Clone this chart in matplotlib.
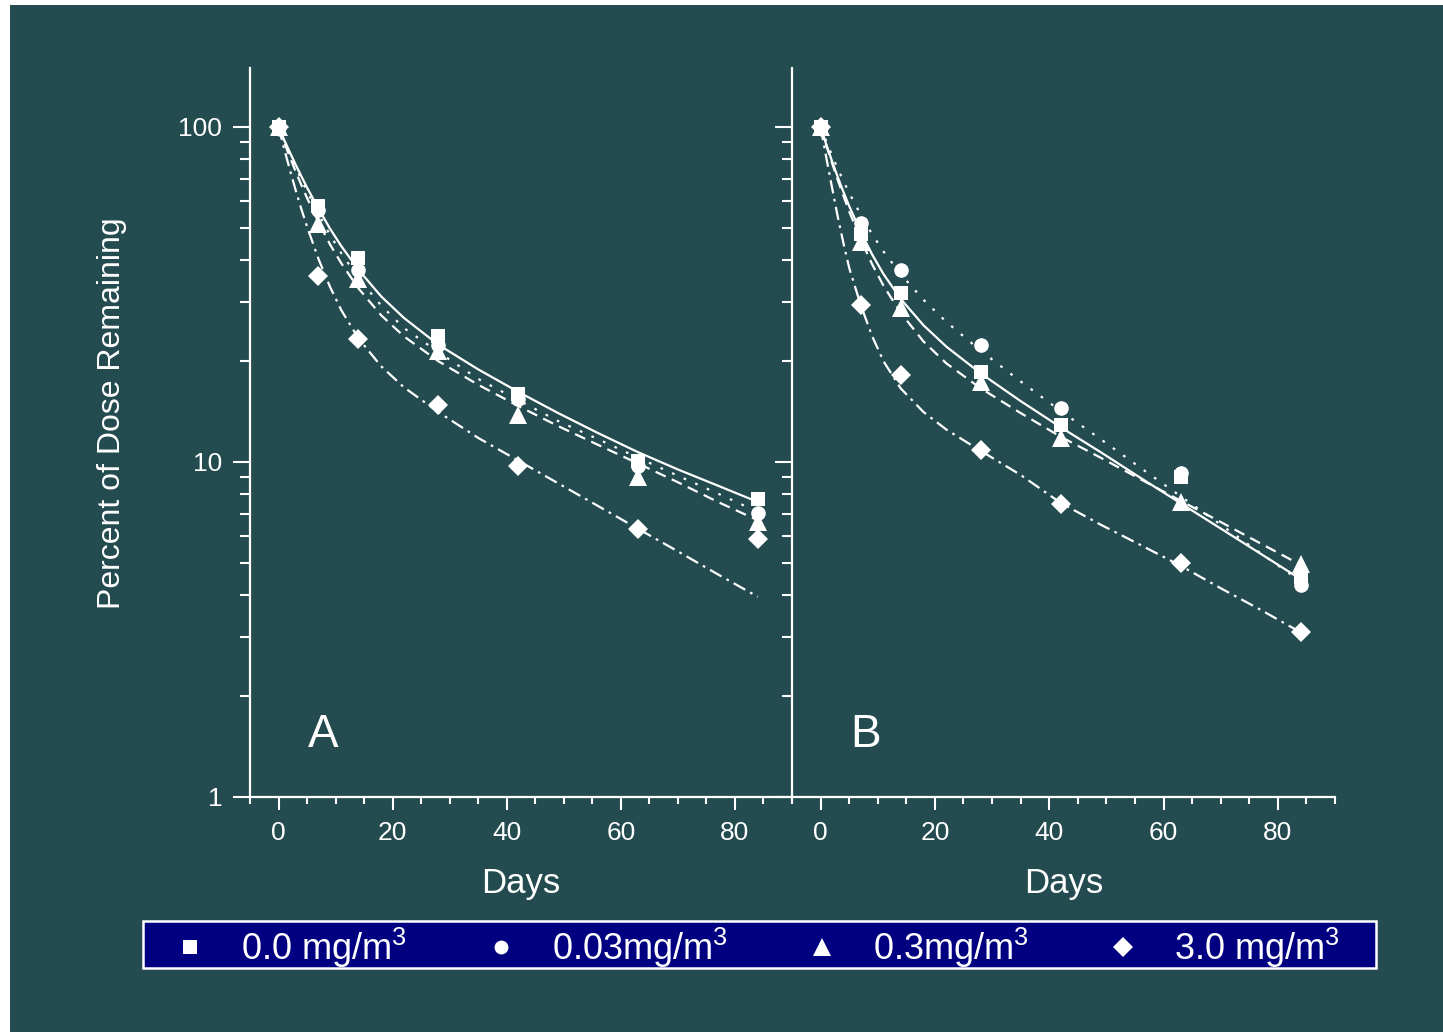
from matplotlib.backends.backend_agg import FigureCanvasAgg as FigureCanvas
from matplotlib.figure import Figure
from matplotlib.lines import Line2D
from matplotlib.patches import Rectangle
from matplotlib.ticker import LogLocator, MultipleLocator, NullFormatter, FixedLocator
import matplotlib as mpl

mpl.rcParams['font.family'] = ['Liberation Sans', 'DejaVu Sans']
mpl.rcParams['mathtext.fontset'] = 'custom'
mpl.rcParams['mathtext.rm'] = 'Liberation Sans'
mpl.rcParams['mathtext.it'] = 'Liberation Sans'

# measured points
days = [0, 7, 14, 28, 42, 63, 84]

a_sq = [100, 58.0, 40.7, 23.7, 16.0, 10.1, 7.75]
a_ci = [100, 56.5, 37.5, 22.3, 15.4, 9.7, 7.05]
a_tr = [100, 51.5, 35.2, 21.5, 13.8, 9.0, 6.6]
a_di = [100, 36.0, 23.3, 14.8, 9.75, 6.3, 5.9]

b_sq = [100, 47.8, 31.9, 18.6, 12.9, 9.05, 4.55]
b_ci = [100, 51.6, 37.4, 22.4, 14.5, 9.3, 4.3]
b_tr = [100, 45.5, 28.8, 17.3, 11.8, 7.6, 4.95]
b_di = [100, 29.4, 18.2, 10.85, 7.5, 5.0, 3.1]

# fitted curves
fit_days = [0, 1, 2, 3, 4, 5, 7, 9, 11, 14, 18, 22, 28, 35, 42, 49, 56, 63, 70, 77, 84]

a_fit_sq = [100, 91.5, 83.9, 77.2, 71.3, 65.9, 57.1, 49.8, 44.1, 37.5, 31.2, 26.9, 22.4, 18.9, 16.2, 14.0, 12.2, 10.7, 9.5, 8.5, 7.6]
a_fit_ci = [100, 90.9, 83.0, 76.0, 69.7, 64.2, 55.0, 47.7, 42.0, 35.4, 29.3, 25.1, 21.3, 17.7, 15.3, 13.25, 11.7, 10.3, 9.1, 8.05, 7.1]
a_fit_tr = [100, 90.0, 81.2, 73.7, 67.1, 61.4, 52.0, 44.7, 39.2, 33.0, 27.4, 23.7, 20.0, 17.0, 14.7, 12.8, 11.25, 9.9, 8.7, 7.6, 6.7]
a_fit_di = [100, 85.9, 74.4, 64.8, 56.9, 50.4, 40.4, 33.4, 28.4, 23.4, 19.3, 16.7, 14.1, 11.8, 10.1, 8.64, 7.39, 6.32, 5.41, 4.62, 3.96]

b_fit_sq = [100, 88.7, 79.1, 70.9, 64.0, 58.1, 48.7, 41.7, 36.4, 30.7, 25.6, 22.1, 18.4, 15.2, 12.7, 10.7, 8.96, 7.53, 6.33, 5.32, 4.47]
b_fit_ci = [100, 90.5, 82.3, 75.1, 69.0, 63.6, 54.8, 47.9, 42.5, 36.4, 30.5, 26.2, 21.5, 17.4, 14.2, 11.7, 9.6, 7.9, 6.5, 5.34, 4.40]
b_fit_tr = [100, 88.1, 78.1, 69.5, 62.3, 56.0, 46.3, 39.0, 33.6, 27.9, 22.9, 19.7, 16.6, 14.0, 11.9, 10.3, 8.88, 7.66, 6.62, 5.71, 4.93]
b_fit_di = [100, 81, 66, 54, 45, 38, 29.5, 23.8, 20.0, 16.6, 14.1, 12.5, 10.8, 9.15, 7.55, 6.5, 5.65, 4.9, 4.2, 3.62, 3.1]

labels = ['0.0 mg/m$^{3}$', '0.03mg/m$^{3}$', '0.3mg/m$^{3}$', '3.0 mg/m$^{3}$']
markers = ['s', 'o', '^', 'D']
msizes = [10.5, 10.5, 13, 10.5]
styles = ['-', (0, (1.2, 4.5)), (0, (5, 3)), (0, (6, 2.5, 1.2, 2.5))]

bg = '#234b50'
W, H = 1443, 1032

fig = Figure(figsize=(W / 100, H / 100), dpi=100, facecolor='white')
FigureCanvas(fig)
fig.patches.append(Rectangle((10 / W, 0), 1, 1 - 5 / H, transform=fig.transFigure,
                             facecolor=bg, edgecolor='none', zorder=-10))

ax_a = fig.add_axes([250 / W, 1 - 797 / H, 542 / W, 729 / H])
ax_b = fig.add_axes([792 / W, 1 - 797 / H, 543 / W, 729 / H])

panels = [
    (ax_a, 'A', [a_sq, a_ci, a_tr, a_di], [a_fit_sq, a_fit_ci, a_fit_tr, a_fit_di]),
    (ax_b, 'B', [b_sq, b_ci, b_tr, b_di], [b_fit_sq, b_fit_ci, b_fit_tr, b_fit_di]),
]

for ax, tag, pts, fits in panels:
    ax.set_facecolor('none')
    for y, m, ms in zip(pts, markers, msizes):
        ax.plot(days, y, linestyle='none', marker=m, ms=ms, color='white',
                markeredgewidth=0, clip_on=False, zorder=3)
    for y, ls in zip(fits, styles):
        ax.plot(fit_days, y, linestyle=ls, color='white', lw=1.6, zorder=2)

    ax.set_yscale('log')
    ax.set_ylim(1, 150)
    ax.set_xlim(-5, 90)
    ax.xaxis.set_major_locator(FixedLocator([0, 20, 40, 60, 80]))
    ax.xaxis.set_minor_locator(MultipleLocator(5))
    ax.yaxis.set_major_locator(LogLocator(base=10, numticks=5))
    ax.yaxis.set_minor_locator(LogLocator(base=10, subs=range(2, 10), numticks=20))
    ax.yaxis.set_minor_formatter(NullFormatter())

    for side in ['top', 'right']:
        ax.spines[side].set_visible(False)
    for side in ['left', 'bottom']:
        ax.spines[side].set_color('white')
        ax.spines[side].set_linewidth(1.6)

    ax.tick_params(axis='both', which='both', colors='white', width=1.5, direction='out')
    ax.tick_params(axis='y', which='major', length=12, pad=8, labelsize=19)
    ax.tick_params(axis='y', which='minor', length=7)
    ax.tick_params(axis='x', which='major', length=9, pad=8, labelsize=19)
    ax.tick_params(axis='x', which='minor', length=5)
    ax.set_xlabel('Days', color='white', fontsize=25, labelpad=16)
    ax.text(0.135, 0.085, tag, transform=ax.transAxes, color='white',
            fontsize=33, ha='center', va='center')

ax_a.set_yticks([1, 10, 100])
ax_a.set_yticklabels(['1', '10', '100'])
ax_b.set_yticks([1, 10, 100])
ax_b.set_yticklabels([])

fig.text(112 / W, 1 - 413 / H, 'Percent of Dose Remaining', rotation=90,
         color='white', fontsize=23, ha='center', va='center')

# legend: navy box plus a frameless legend inside it
fig.patches.append(Rectangle((143 / W, 1 - 968 / H), 1233 / W, 47 / H,
                             transform=fig.transFigure, facecolor='#000080',
                             edgecolor='white', linewidth=1.8, zorder=5))
handles = [Line2D([], [], linestyle='none', marker=m, ms=ms * 0.95, color='white',
                  markeredgewidth=0) for m, ms in zip(markers, msizes)]
leg = fig.legend(handles, labels, loc='center', ncol=4,
                 bbox_to_anchor=(756 / W, 1 - 948 / H),
                 frameon=False, fontsize=26, labelcolor='white', handlelength=1.0,
                 handletextpad=0.9, columnspacing=2.12, borderpad=0, borderaxespad=0)
leg.set_zorder(6)

fig.savefig('out.png', dpi=100, facecolor=fig.get_facecolor())
